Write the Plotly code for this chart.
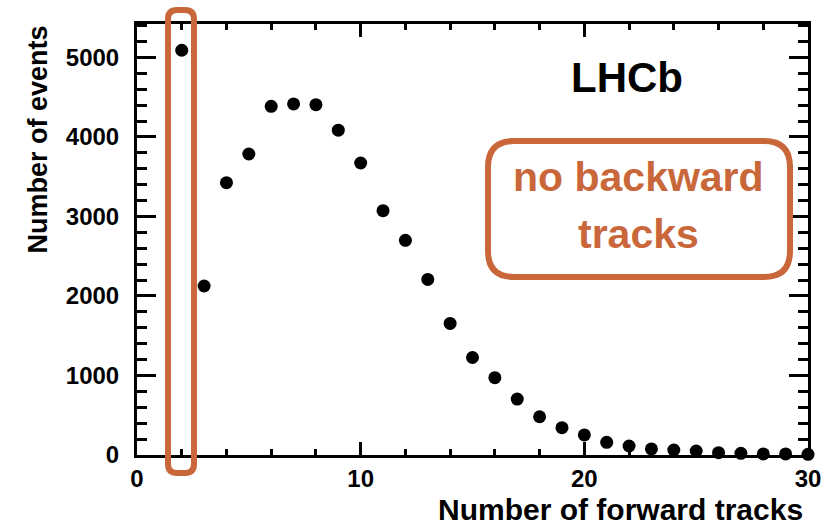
import plotly.graph_objects as go

# Number of forward tracks per event (bins 2..30)
n_forward = list(range(2, 31))
n_events = [5090, 2125, 3425, 3785, 4385, 4415, 4405, 4085, 3672, 3072,
            2700, 2208, 1655, 1226, 972, 703, 481, 343, 252, 160,
            113, 76, 63, 50, 29, 21, 14, 13, 8]

x_range = [0, 30]
y_range = [0, 5420]

ORANGE = "#C9663A"
FONT = "Liberation Sans"

# plot-area geometry in pixels (used to place overlays)
W, H = 827, 525
L, R, T, B = 137, 19, 24, 70
PW, PH = W - L - R, H - T - B


def px(x):
    return (x - L) / PW


def py(y):
    return (H - B - y) / PH


def rounded_rect(x0, y0, x1, y1, r):
    """SVG path of a rounded rectangle given in pixel coords, output in paper coords."""
    rx, ry = r / PW, r / PH
    a, b, c, d = px(x0), py(y0), px(x1), py(y1)  # b is top (larger), d bottom
    return (f"M{a+rx},{b} L{c-rx},{b} Q{c},{b} {c},{b-ry} "
            f"L{c},{d+ry} Q{c},{d} {c-rx},{d} "
            f"L{a+rx},{d} Q{a},{d} {a},{d+ry} "
            f"L{a},{b-ry} Q{a},{b} {a+rx},{b} Z")


fig = go.Figure()
fig.add_trace(go.Scatter(
    x=n_forward, y=n_events, mode="markers",
    marker=dict(color="black", size=13, line=dict(width=0)),
    cliponaxis=False, showlegend=False,
))

axis_common = dict(
    showgrid=False, zeroline=False, showline=True, linecolor="black",
    linewidth=3, mirror="allticks", ticks="inside", tickcolor="black",
    tickfont=dict(family=FONT, size=24, color="black", weight="bold"),
)

fig.update_xaxes(
    range=x_range, tickmode="linear", tick0=0, dtick=10,
    ticklen=13, tickwidth=3, ticklabelstandoff=0,
    minor=dict(ticks="inside", dtick=2, ticklen=6, tickwidth=2.5, tickcolor="black"),
    **axis_common,
)
fig.update_yaxes(
    range=y_range, tickmode="linear", tick0=0, dtick=1000,
    ticklen=19, tickwidth=3, ticklabelstandoff=10,
    minor=dict(ticks="inside", dtick=200, ticklen=10, tickwidth=2.5, tickcolor="black"),
    **axis_common,
)

annotations = [
    dict(text="Number of forward tracks", x=px(805), y=py(510), xref="paper", yref="paper",
         xanchor="right", yanchor="middle", showarrow=False,
         font=dict(family=FONT, size=30, color="black", weight="bold")),
    dict(text="Number of events", x=px(37.5), y=py(23), xref="paper", yref="paper",
         xanchor="center", yanchor="top", textangle=-90, showarrow=False,
         font=dict(family=FONT, size=27, color="black", weight="bold")),
    dict(text="LHCb", x=px(627), y=py(78), xref="paper", yref="paper",
         xanchor="center", yanchor="middle", showarrow=False,
         font=dict(family=FONT, size=42, color="black", weight="bold")),
    dict(text="no backward", x=px(638), y=py(177), xref="paper", yref="paper",
         xanchor="center", yanchor="middle", showarrow=False,
         font=dict(family=FONT, size=41, color=ORANGE, weight="bold")),
    dict(text="tracks", x=px(638), y=py(234), xref="paper", yref="paper",
         xanchor="center", yanchor="middle", showarrow=False,
         font=dict(family=FONT, size=41, color=ORANGE, weight="bold")),
]

shapes = [
    # highlight around the 2-track bin
    dict(type="path", xref="paper", yref="paper",
         path=rounded_rect(168, 10, 194, 473, 9),
         line=dict(color=ORANGE, width=6), layer="above"),
    # frame around the label
    dict(type="path", xref="paper", yref="paper",
         path=rounded_rect(488, 141, 790, 277, 26),
         line=dict(color=ORANGE, width=6), layer="above"),
]

fig.update_layout(
    width=W, height=H,
    margin=dict(l=L, r=R, t=T, b=B, autoexpand=False),
    paper_bgcolor="white", plot_bgcolor="white",
    annotations=annotations, shapes=shapes,
)

fig.write_html("out.html")
